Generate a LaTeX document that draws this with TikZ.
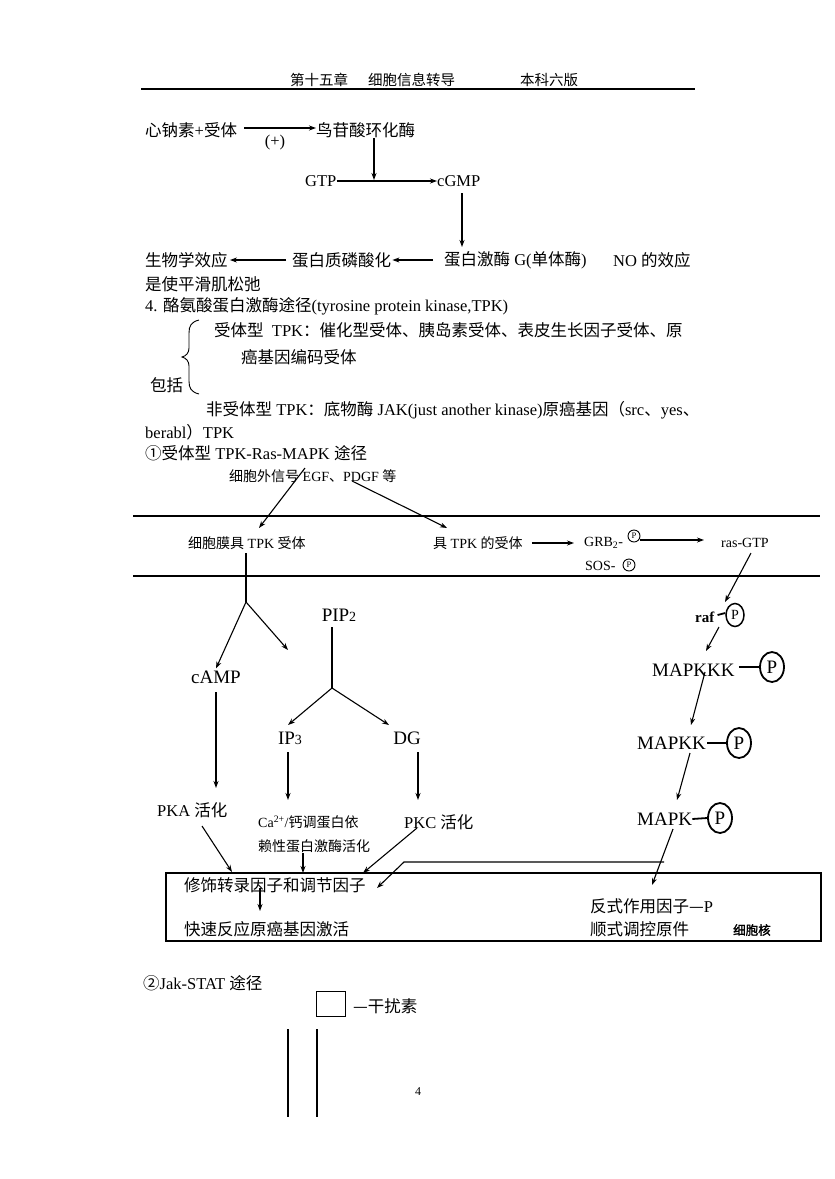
\documentclass[tikz,border=0pt]{standalone}
\usepackage{fontspec}
\setmainfont{Liberation Serif}
\newfontfamily\cjk{Noto Sans CJK SC}
\newfontfamily\cjkb{Noto Sans CJK SC}[FakeBold=2]
\usetikzlibrary{arrows.meta,shapes.geometric}
\def\cjksel{\cjk}
\XeTeXinterchartokenstate=1
\newXeTeXintercharclass\CJKcls
\newcount\cjkcnt
\def\cjkrange#1#2{\cjkcnt=#1\relax
  \loop \XeTeXcharclass\cjkcnt=\CJKcls \ifnum\cjkcnt<#2\relax \advance\cjkcnt by 1 \repeat}
\cjkrange{"4E00}{"9FFF}
\cjkrange{"3000}{"303F}
\cjkrange{"FF00}{"FFEF}
\cjkrange{"2460}{"24FF}
\XeTeXcharclass"2014=\CJKcls
\XeTeXinterchartoks 0 \CJKcls = {\begingroup\cjksel}
\XeTeXinterchartoks 4095 \CJKcls = {\begingroup\cjksel}
\XeTeXinterchartoks \CJKcls 0 = {\endgroup}
\XeTeXinterchartoks \CJKcls 4095 = {\endgroup}
\begin{document}
\begin{tikzpicture}[x=1pt,y=-1pt,
  txt/.style={inner sep=0pt, anchor=west, font=\fontsize{16.5}{19}\selectfont},
  hd/.style={inner sep=0pt, anchor=west, font=\fontsize{14.5}{17}\selectfont},
  sm/.style={inner sep=0pt, anchor=west, font=\fontsize{14}{16}\selectfont},
  big/.style={inner sep=0pt, font=\fontsize{19}{22}\selectfont},
  arr/.style={line width=1.1pt, -{Stealth[length=7pt,width=5pt]}},
  ln/.style={line width=1.1pt},
  pc/.style={draw, ellipse, line width=1.8pt, inner sep=0pt, minimum width=24pt, minimum height=30pt, font=\fontsize{19}{19}\selectfont},
  spc/.style={draw, circle, line width=0.9pt, inner sep=0pt, minimum size=12pt, font=\fontsize{8.5}{8.5}\selectfont},
  dsh/.style={line width=1.8pt}]
\useasboundingbox (0,0) rectangle (835,1179);
\fill[white] (0,0) rectangle (835,1179);

% header
\node[hd] (h1) at (290,80) {第十五章};
\node[hd] (h2) at (368,80) {细胞信息转导};
\node[hd] (h3) at (520,80) {本科六版};
\draw[line width=2pt] (141,89) -- (695,89);

% cGMP pathway
\node[txt] (xn) at (145,130) {心钠素+受体};
\node[txt] (gc) at (316,130) {鸟苷酸环化酶};
\draw[arr] ([xshift=7pt,yshift=2pt]xn.east) -- ([yshift=2pt]gc.west);
\node[txt, anchor=center] (plus) at (275,143) {(+)};
\node[txt] (gtp) at (305,181) {GTP};
\node[txt] (cgmp) at (437,181) {cGMP};
\draw[arr] (gtp.east) -- (cgmp.west);
\coordinate (j1) at (374,180);
\coordinate (j0) at (374,138);
\draw[arr] (j0) -- (j1);
\node[txt] (bio) at (145,260) {生物学效应};
\node[txt] (pp) at (292,260) {蛋白质磷酸化};
\node[txt] (pk) at (444,260) {蛋白激酶 G(单体酶)};
\node[txt] (no) at (613,260) {NO 的效应};
\coordinate (c0) at (462,193);
\coordinate (c1) at (462,247);
\draw[arr] (c0) -- (c1);
\draw[arr] ([xshift=-11pt]pk.west) -- ([xshift=1pt]pp.east);
\draw[arr] ([xshift=-6pt]pp.west) -- ([xshift=2pt]bio.east);
\node[txt] (sm1) at (145,284) {是使平滑肌松弛};

% TPK text
\node[txt] (t4) at (145,306) {4. 酪氨酸蛋白激酶途径(tyrosine protein kinase,TPK)};
\node[txt] (t5) at (214,330) {受体型\ \ TPK：催化型受体、胰岛素受体、表皮生长因子受体、原};
\node[txt] (t6) at (241,357) {癌基因编码受体};
\node[txt] (t7) at (150,385) {包括};
\draw[line width=0.9pt] (199,320) .. controls (191,322) and (189,326) .. (189,333) -- (189,348)
  .. controls (189,353) and (186,356) .. (182,357) .. controls (186,358) and (189,361) .. (189,366)
  -- (189,381) .. controls (189,388) and (191,392) .. (199,394);
\node[txt] (t8) at (206,410) {非受体型 TPK：底物酶 JAK(just another kinase)原癌基因（src、yes、};
\node[txt] (t9) at (145,432) {berabl）TPK};
\node[txt] (t10) at (145,453) {①受体型 TPK-Ras-MAPK 途径};

% membrane section
\node[sm] (sig) at (229,476) {细胞外信号 EGF、PDGF 等};
\draw[line width=2.5pt] (133,516) -- (820,516);
\draw[line width=2.5pt] (133,576) -- (820,576);
\node[sm] (mr) at (188,543) {细胞膜具 TPK 受体};
\node[sm] (tr) at (433,543) {具 TPK 的受体};
\node[sm] (grb) at (584,543) {GRB\textsubscript{2}-};
\node[spc] (gp) at (634,536) {P};
\node[sm] (sos) at (585,566) {SOS-};
\node[spc] (sp) at (629,565) {P};
\node[sm] (ras) at (721,543) {ras-GTP};
\coordinate (s1) at (305,468);
\coordinate (s2) at (259,528);
\coordinate (s3) at (352,481);
\coordinate (s4) at (447,528);
\draw[arr] (s1) -- (s2);
\draw[arr] (s3) -- (s4);
\draw[arr] ([xshift=9pt]tr.east) -- ([xshift=-10pt]grb.west);
\coordinate (g0) at (640,540);
\coordinate (g1) at (704,540);
\draw[arr] (g0) -- (g1);

% left branches
\coordinate (m0) at (246,553);
\coordinate (b1) at (246,602);
\coordinate (b2) at (288,650);
\node[big] (camp) at (216,677) {cAMP};
\node[big] (pip) at (339,615) {PIP{\fontsize{14}{14}\selectfont 2}};
\node[big] (ip3) at (290,738) {IP{\fontsize{14}{14}\selectfont 3}};
\node[big] (dg) at (407,738) {DG};
\draw[ln] (m0) -- (b1);
\draw[arr] (b1) -- ([yshift=2pt]camp.north);
\draw[arr] (b1) -- (b2);
\coordinate (p0) at (332,627);
\coordinate (b3) at (332,688);
\coordinate (i0) at (288,725);
\coordinate (d0) at (389,725);
\draw[ln] (p0) -- (b3);
\draw[arr] (b3) -- (i0);
\draw[arr] (b3) -- (d0);
\coordinate (ca0) at (216,692);
\coordinate (ca1) at (216,788);
\draw[arr] (ca0) -- (ca1);
\coordinate (ip0) at (288,752);
\coordinate (ip1) at (288,800);
\draw[arr] (ip0) -- (ip1);
\coordinate (dg0) at (418,752);
\coordinate (dg1) at (418,800);
\draw[arr] (dg0) -- (dg1);
\node[txt] (pka) at (157,810) {PKA 活化};
\node[sm] (ca) at (258,822) {Ca\textsuperscript{2+}/钙调蛋白依};
\node[sm] (ca2) at (258,846) {赖性蛋白激酶活化};
\node[txt] (pkc) at (404,822) {PKC 活化};

% right cascade
\coordinate (r0) at (751,553);
\coordinate (r1) at (725,602);
\draw[arr] (r0) -- (r1);
\node[inner sep=0pt, anchor=west, font=\fontsize{15}{17}\selectfont\bfseries] (raf) at (695,617) {raf};
\node[pc, minimum width=18pt, minimum height=23pt, line width=1.5pt, font=\fontsize{14}{14}\selectfont] (rafP) at (735,615) {P};
\draw[dsh] ([xshift=3pt,yshift=2pt]raf.east) -- ([yshift=2pt]rafP.west);
\node[big, anchor=west] (m3) at (652,670) {MAPKKK};
\node[pc] (m3P) at (772,667) {P};
\draw[dsh] ([xshift=4pt,yshift=3pt]m3.east) -- (m3P.west);
\node[big, anchor=west] (m2) at (637,743) {MAPKK};
\node[pc] (m2P) at (739,743) {P};
\draw[dsh] ([xshift=1pt]m2.east) -- (m2P.west);
\node[big, anchor=west] (m1) at (637,819) {MAPK};
\node[pc] (m1P) at (720,818) {P};
\draw[dsh] (m1.east) -- (m1P.west);
\coordinate (a0) at (719,627);
\coordinate (a1) at (706,651);
\draw[arr] (a0) -- (a1);
\coordinate (a2) at (705,672);
\coordinate (a3) at (691,725);
\draw[arr] (a2) -- (a3);
\coordinate (a4) at (690,753);
\coordinate (a5) at (677,800);
\draw[arr] (a4) -- (a5);
\coordinate (a6) at (673,829);
\coordinate (a7) at (652,885);
\draw[arr] (a6) -- (a7);

% nucleus box
\draw[line width=2pt] (166,873) rectangle (821,941);
\node[txt] (mod) at (184,885) {修饰转录因子和调节因子};
\node[txt] (fast) at (184,929) {快速反应原癌基因激活};
\node[txt] (trans) at (590,906) {反式作用因子—P};
\node[txt] (cis) at (590,929) {顺式调控原件};
\node[inner sep=0pt, anchor=west, font=\fontsize{12.5}{14}\selectfont\def\cjksel{\cjkb}] (nucl) at (733,930) {细胞核};
\coordinate (k0) at (202,826);
\coordinate (k1) at (232,872);
\draw[arr] (k0) -- (k1);
\coordinate (k2) at (303,853);
\coordinate (k3) at (303,873);
\draw[arr] (k2) -- (k3);
\coordinate (k4) at (417,828);
\coordinate (k5) at (363,873);
\draw[arr] (k4) -- (k5);
\coordinate (h0) at (664,862);
\coordinate (hb) at (404,862);
\coordinate (h1e) at (377,888);
\draw[arr] (h0) -- (hb) -- (h1e);
\coordinate (f0) at (260,888);
\coordinate (f1) at (260,911);
\draw[arr] (f0) -- (f1);

% Jak-STAT
\node[txt] (js) at (143,983) {②Jak-STAT 途径};
\node[draw, line width=0.9pt, minimum width=29pt, minimum height=25pt, inner sep=0pt] (sq) at (331,1004) {};
\node[txt] (ifn) at (353,1006) {—干扰素};
\draw[ln] (288,1029) -- (288,1117);
\draw[ln] (317,1029) -- (317,1117);
\node[inner sep=0pt, font=\fontsize{12}{14}\selectfont] (pg) at (418,1092) {4};
\end{tikzpicture}
\end{document}
